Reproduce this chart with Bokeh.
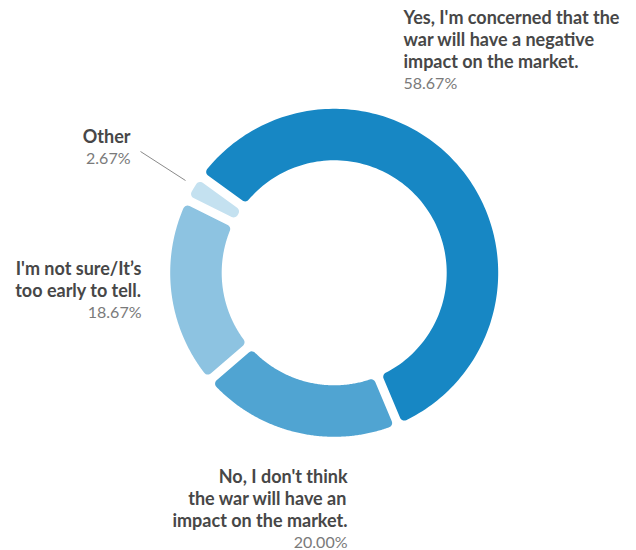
import numpy as np
from bokeh.plotting import figure
from bokeh.models import Range1d, ColumnDataSource
from bokeh.embed import file_html
from bokeh.resources import INLINE
from bokeh.core.properties import value

# ---------------- data ----------------
categories = ["Yes", "No", "Not sure", "Other"]
values = [58.67, 20.00, 18.67, 2.67]
pct_labels = ["58.67%", "20.00%", "18.67%", "2.67%"]
label_lines = [
    ["Yes, I'm concerned that the", "war will have a negative", "impact on the market."],
    ["No, I don't think", "the war will have an", "impact on the market."],
    ["I'm not sure/It\u2019s", "too early to tell."],
    ["Other"],
]
colors = ["#1787c4", "#50a4d2", "#8dc3e1", "#c4e1f0"]

# ---------------- layout ----------------
W, H = 636, 550
CX, CY = 333.7, 272.3
R_OUT, R_IN = 164, 112.5
START_DEG = -54.0      # clockwise from 12 o'clock
GAP = 9.0              # px gap between segments
CORNER = 4.5           # corner radius px
FONT = "Lato"
LH = 22
label_anchor = [(403, 16, "left"), (347, 475, "right"), (141, 267, "right"), (130, 135, "right")]


def unit(phi):
    return np.array([np.cos(phi), np.sin(phi)])


def arc_pts(center, rad, a0, a1, n):
    a = np.linspace(a0, a1, n)
    return [center + rad * unit(t) for t in a]


def turn(center, rad, v0, v1, n=8):
    a0 = np.arctan2(v0[1], v0[0])
    a1 = np.arctan2(v1[1], v1[0])
    d = (a1 - a0 + np.pi) % (2 * np.pi) - np.pi
    return arc_pts(center, rad, a0, a0 + d, n)


def segment(phi_a, phi_b):
    """clockwise segment from phi_a (start) to phi_b (end), math angles"""
    e = GAP / 2 + CORNER
    r1, r2 = R_IN + CORNER, R_OUT - CORNER
    ua, ub = unit(phi_a), unit(phi_b)
    in_a = np.array([np.sin(phi_a), -np.cos(phi_a)])
    in_b = np.array([-np.sin(phi_b), np.cos(phi_b)])

    def corner(u, n, r):
        t = np.sqrt(r * r - e * e)
        return t * u + e * n

    Ca2, Ca1 = corner(ua, in_a, r2), corner(ua, in_a, r1)
    Cb2, Cb1 = corner(ub, in_b, r2), corner(ub, in_b, r1)
    ang = lambda v: np.arctan2(v[1], v[0])
    zero = np.zeros(2)
    o0, o1 = ang(Ca2), ang(Cb2)
    while o1 > o0:
        o1 -= 2 * np.pi
    i0, i1 = ang(Cb1), ang(Ca1)
    while i1 < i0:
        i1 += 2 * np.pi
    pts = []
    pts += arc_pts(zero, R_OUT, o0, o1, 160)
    pts += turn(Cb2, CORNER, unit(o1), -in_b)
    pts += turn(Cb1, CORNER, -in_b, -unit(i0))
    pts += arc_pts(zero, R_IN, i0, i1, 120)
    pts += turn(Ca1, CORNER, -unit(i1), -in_a)
    pts += turn(Ca2, CORNER, -in_a, unit(o0))
    pts = np.array(pts)
    return list(CX + pts[:, 0]), list(CY - pts[:, 1])


p = figure(width=W, height=H, x_range=Range1d(0, W), y_range=Range1d(H, 0),
           output_backend="svg", toolbar_location=None, min_border=0,
           x_axis_location=None, y_axis_location=None)
p.xgrid.visible = False
p.ygrid.visible = False
p.outline_line_color = None
p.background_fill_color = "white"
p.border_fill_color = "white"

total = sum(values)
xs, ys = [], []
cum = 0.0
for v in values:
    th0 = np.radians(START_DEG + 360 * cum / total)
    th1 = np.radians(START_DEG + 360 * (cum + v) / total)
    cum += v
    phi_a, phi_b = np.pi / 2 - th0, np.pi / 2 - th1
    x, y = segment(phi_a, phi_b)
    xs.append(x)
    ys.append(y)

p.patches(xs="xs", ys="ys", fill_color="color", line_color=None,
          source=ColumnDataSource(dict(xs=xs, ys=ys, color=colors)))

# connector for "Other"
p.line(x=[140, 185], y=[151, 180], line_color="#8a8a8a", line_width=1)

# labels
tx, ty, tt, ta = [], [], [], []
px, py, pt, pa = [], [], [], []
for lines, pct, (ax, ay, al) in zip(label_lines, pct_labels, label_anchor):
    for i, ln in enumerate(lines):
        tx.append(ax); ty.append(ay + i * LH); tt.append(ln); ta.append(al)
    px.append(ax); py.append(ay + len(lines) * LH); pt.append(pct); pa.append(al)

p.text(x="x", y="y", text="t", text_align="a", text_baseline="middle",
       text_font=value(FONT), text_font_style="bold", text_font_size="18px",
       text_color="#474747", source=ColumnDataSource(dict(x=tx, y=ty, t=tt, a=ta)))
p.text(x="x", y="y", text="t", text_align="a", text_baseline="middle",
       text_font=value(FONT), text_font_size="16px",
       text_color="#7a7a7a", source=ColumnDataSource(dict(x=px, y=py, t=pt, a=pa)))

open("out.html", "w").write(file_html(p, INLINE))
